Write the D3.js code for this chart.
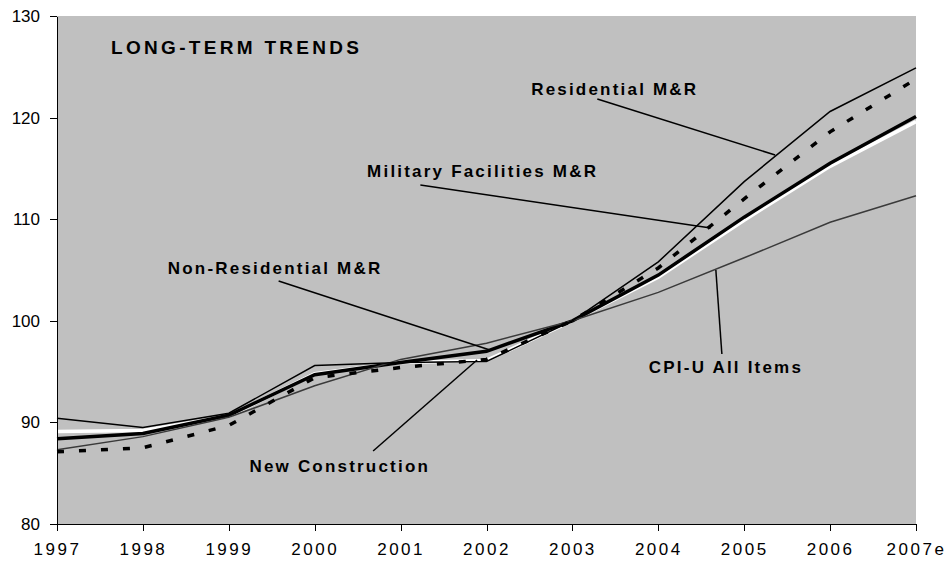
<!DOCTYPE html>
<html>
<head>
  <meta charset='utf-8'>
  <title>Long-Term Trends</title>
  <script src='https://d3js.org/d3.v7.min.js'></script>
  <style>
    body { margin: 0; background: #fff; }
    svg text { font-family: 'Liberation Sans', Arial, sans-serif; fill: #000; }
    .axis path, .axis line { stroke: #000; stroke-width: 1px; shape-rendering: crispEdges; }
    .axis text { font-size: 17px; }
    .axis--x text { letter-spacing: 2.5px; }
    .note { font-size: 17px; font-weight: bold; letter-spacing: 2.2px; }
    .title { font-size: 19px; font-weight: bold; letter-spacing: 3.3px; }
    .line { fill: none; stroke-linejoin: miter; }
    .leader { stroke: #000; stroke-width: 1.5px; }
  </style>
</head>
<body>
  <svg width='947' height='566' id='chart'></svg>
  <script>
    // chart data
    const years = [1997, 1998, 1999, 2000, 2001, 2002, 2003, 2004, 2005, 2006, 2007];
    const yearLabels = ['1997', '1998', '1999', '2000', '2001', '2002', '2003', '2004', '2005', '2006', '2007e'];
    const yTicks = [80, 90, 100, 110, 120, 130];

    const residential   = [90.4, 89.5, 90.9, 95.6, 95.9, 96.0, 100, 105.8, 113.7, 120.6, 124.9];
    const military      = [87.1, 87.5, 89.7, 94.4, 95.4, 96.2, 100, 105.2, 112.0, 118.6, 123.8];
    const nonResidential= [88.4, 88.9, 90.7, 94.7, 95.9, 97.0, 100, 104.5, 110.2, 115.5, 120.1];
    const newConstruction=[89.1, 89.2, 90.6, 94.8, 95.9, 96.1, 100, 104.3, 109.9, 115.2, 119.6];
    const cpiU          = [87.3, 88.6, 90.5, 93.6, 96.2, 97.8, 100, 102.8, 106.2, 109.7, 112.3];

    const svg = d3.select('#chart'),
        margin = {top: 16, right: 31, bottom: 42, left: 57},
        width = +svg.attr('width') - margin.left - margin.right,
        height = +svg.attr('height') - margin.top - margin.bottom;

    const x = d3.scaleLinear().domain([1997, 2007]).range([0, width]);
    const y = d3.scaleLinear().domain([80, 130]).range([height, 0]);

    const g = svg.append('g')
        .attr('transform', 'translate(' + margin.left + ',' + margin.top + ')');

    g.append('rect')
        .attr('width', width)
        .attr('height', height)
        .attr('fill', '#c0c0c0');

    const line = d3.line()
        .x(function(d, i) { return x(years[i]); })
        .y(function(d) { return y(d); });

    // drawing order matters: white first, the black ones over it
    const series = [
      {values: newConstruction, stroke: '#fff', width: 3.5},
      {values: nonResidential, stroke: '#000', width: 3.5},
      {values: cpiU, stroke: '#3a3a3a', width: 1.5},
      {values: residential, stroke: '#000', width: 1.5},
      {values: military, stroke: '#000', width: 3.5, dash: '7,15'}
    ];

    series.forEach(function(s) {
      g.append('path')
          .datum(s.values)
          .attr('class', 'line')
          .attr('stroke', s.stroke)
          .attr('stroke-width', s.width)
          .attr('stroke-dasharray', s.dash || null)
          .attr('d', line);
    });

    // labels and leader lines, placed in data units
    const notes = [
      {text: 'Residential M&R', at: [2002.52, 122.22], from: [2003.29, 121.83], to: [2005.36, 116.32]},
      {text: 'Military Facilities M&R', at: [2000.61, 114.15], from: [2001.23, 113.37], to: [2004.61, 109.13]},
      {text: 'Non-Residential M&R', at: [1998.29, 104.61], from: [1999.58, 103.92], to: [2002.04, 97.13]},
      {text: 'New Construction', at: [1999.24, 85.12], from: [2000.68, 87.19], to: [2001.89, 96.14]},
      {text: 'CPI-U All Items', at: [2003.89, 94.86], from: [2004.67, 105.0], to: [2004.74, 96.73]}
    ];

    notes.forEach(function(n) {
      g.append('line')
          .attr('class', 'leader')
          .attr('x1', x(n.from[0])).attr('y1', y(n.from[1]))
          .attr('x2', x(n.to[0])).attr('y2', y(n.to[1]));
      g.append('text')
          .attr('class', 'note')
          .attr('x', x(n.at[0]))
          .attr('y', y(n.at[1]))
          .text(n.text);
    });

    g.append('text')
        .attr('class', 'title')
        .attr('x', x(1997.63))
        .attr('y', y(126.26))
        .text('LONG-TERM TRENDS');

    g.append('g')
        .attr('class', 'axis axis--x')
        .attr('transform', 'translate(0,' + height + ')')
        .call(d3.axisBottom(x)
            .tickValues(years)
            .tickFormat(function(d, i) { return yearLabels[i]; })
            .tickSize(7)
            .tickSizeOuter(0)
            .tickPadding(12));

    g.append('g')
        .attr('class', 'axis axis--y')
        .call(d3.axisLeft(y)
            .tickValues(yTicks)
            .tickSize(7)
            .tickSizeOuter(0)
            .tickPadding(10));

    g.selectAll('.axis text').attr('fill', '#000');
  </script>
</body>
</html>
